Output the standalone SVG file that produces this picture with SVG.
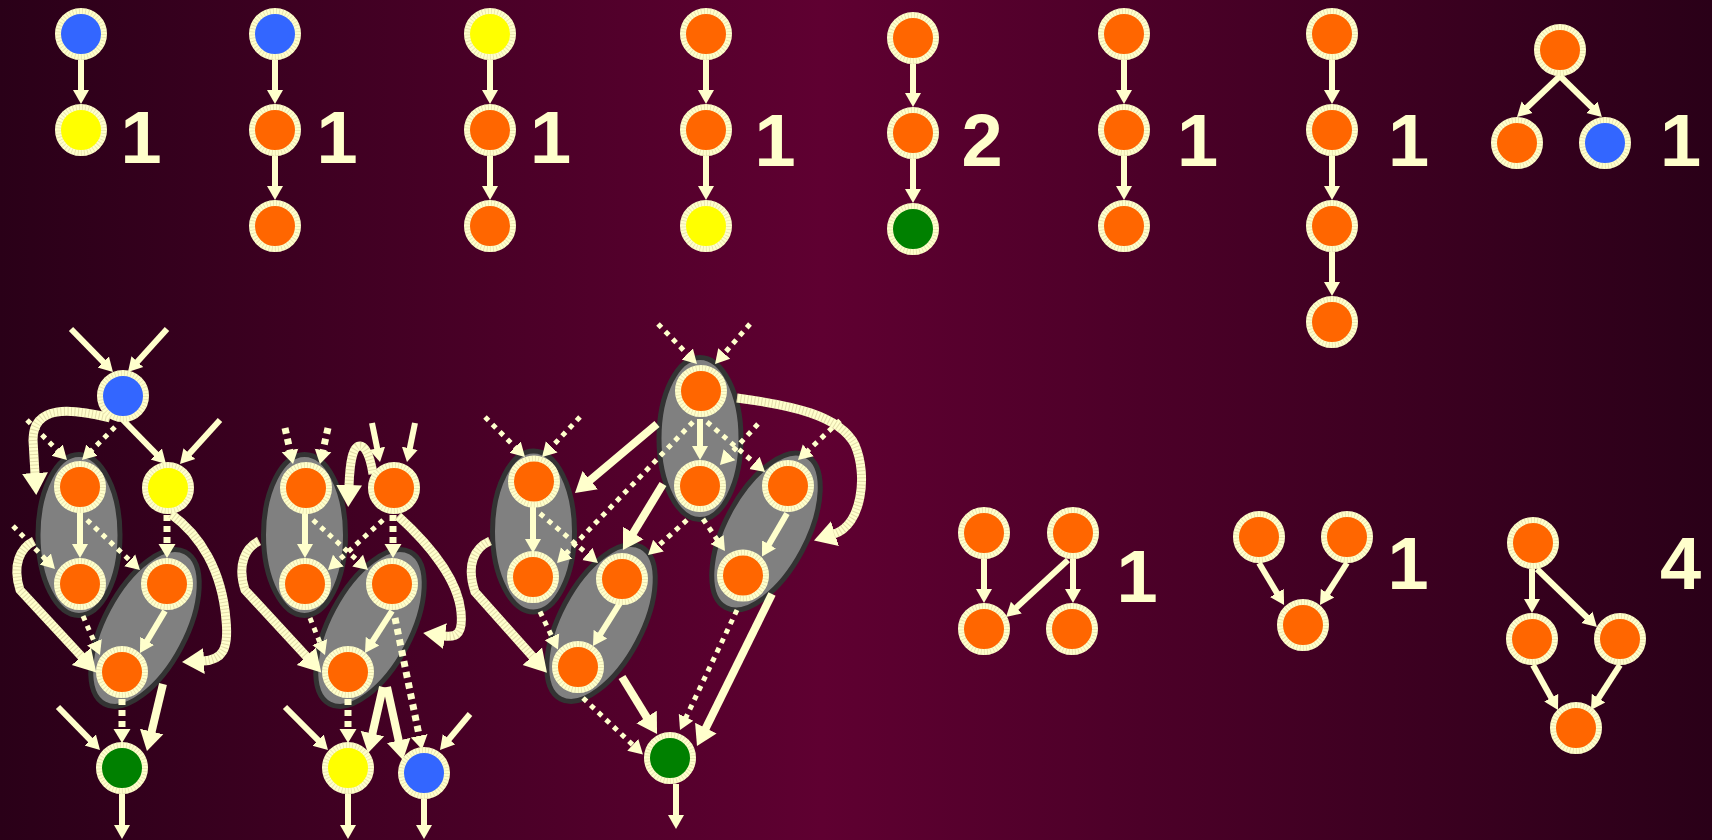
<svg xmlns="http://www.w3.org/2000/svg" width="1712" height="840" viewBox="0 0 1712 840">
<defs>
<linearGradient id="bg" x1="0" y1="0" x2="1" y2="0">
<stop offset="0" stop-color="#2a0018"/>
<stop offset="0.48" stop-color="#5f0031"/>
<stop offset="1" stop-color="#2a0018"/>
</linearGradient>
<marker id="ah" markerUnits="userSpaceOnUse" viewBox="0 -9 15 18" refX="1" refY="0" markerWidth="15" markerHeight="18" orient="auto"><path d="M0,-8 L14,0 L0,8 z" fill="#ffffcc"/></marker>
<marker id="ah2" markerUnits="userSpaceOnUse" viewBox="0 -9 15 18" refX="1" refY="0" markerWidth="15" markerHeight="18" orient="auto"><path d="M0,-8.5 L14,0 L0,8.5 z" fill="#ffffcc"/></marker>
<marker id="at" markerUnits="userSpaceOnUse" viewBox="0 -13 21 26" refX="1" refY="0" markerWidth="21" markerHeight="26" orient="auto"><path d="M0,-12 L20,0 L0,12 z" fill="#ffffcc"/></marker>
<marker id="ahh" markerUnits="userSpaceOnUse" viewBox="0 -14 23 28" refX="1" refY="0" markerWidth="23" markerHeight="28" orient="auto"><path d="M0,-13 L22,0 L0,13 z" fill="#ffffcc"/></marker>
</defs>
<style>
.n{stroke:#ffffcc;stroke-width:6}
.rim{fill:none;stroke:#c8bc88;stroke-width:6;stroke-dasharray:0.8 2.4;opacity:.45}
.o{fill:#ff6600}.b{fill:#3366ff}.y{fill:#ffff00}.g{fill:#008000}
.cl{fill:#808080;stroke:#333333;stroke-width:5}
.s{stroke:#ffffcc;stroke-width:6;fill:none;marker-end:url(#ah)}
.t{stroke:#ffffcc;stroke-width:8;fill:none;marker-end:url(#at)}
.d{stroke:#ffffcc;stroke-width:5;stroke-dasharray:5 5.5;fill:none;marker-end:url(#ah)}
.dd{stroke:#ffffcc;stroke-width:7;stroke-dasharray:6 5;fill:none;marker-end:url(#ah2)}
.h{stroke:#ffffcc;stroke-width:9;fill:none;marker-end:url(#ahh)}
.hx{stroke:#b8ab78;stroke-width:9;stroke-dasharray:1 2.5;fill:none;opacity:.4}
.num{font-family:"Liberation Sans",Arial,sans-serif;font-weight:bold;font-size:74px;fill:#ffffcc;text-anchor:middle}
</style>
<rect x="0" y="0" width="1712" height="840" fill="url(#bg)"/>

<g id="clusters">
<ellipse id="cl1a" class="cl" cx="79" cy="535" rx="41" ry="80.5"/>
<ellipse id="cl1b" class="cl" cx="145" cy="628" rx="41" ry="86" transform="rotate(28 145 628)"/>
<ellipse id="cl2a" class="cl" cx="304.5" cy="535" rx="41" ry="80.5"/>
<ellipse id="cl2b" class="cl" cx="370" cy="628" rx="41" ry="86" transform="rotate(28 370 628)"/>
<ellipse id="cl3a" class="cl" cx="700" cy="438.5" rx="41" ry="81"/>
<ellipse id="cl3b" class="cl" cx="533.5" cy="531.5" rx="41" ry="80.5"/>
<ellipse id="cl3c" class="cl" cx="601" cy="623" rx="41" ry="86" transform="rotate(28 601 623)"/>
<ellipse id="cl3d" class="cl" cx="766" cy="531.5" rx="41" ry="86" transform="rotate(28 766 531.5)"/>
</g>

<g id="connectors">
<!-- top row -->
<path class="s" d="M81,60 L81,91"/>
<path class="s" d="M275,60 L275,91"/><path class="s" d="M275,156 L275,187"/>
<path class="s" d="M490,60 L490,91"/><path class="s" d="M490,156 L490,187"/>
<path class="s" d="M706,60 L706,91"/><path class="s" d="M706,156 L706,187"/>
<path class="s" d="M913,64 L913,94"/><path class="s" d="M913,159 L913,190"/>
<path class="s" d="M1124,60 L1124,91"/><path class="s" d="M1124,156 L1124,187"/>
<path class="s" d="M1332,60 L1332,91"/><path class="s" d="M1332,156 L1332,187"/><path class="s" d="M1332,252 L1332,283"/>
<path class="s" d="M1560,76 L1526.4,108"/><path class="s" d="M1560,76 L1592.6,108"/>
<!-- bottom right -->
<path class="s" d="M984,559 L984,590"/><path class="s" d="M1073,559 L1073,590"/><path class="s" d="M1068,560 L1015.6,608.2"/>
<path class="s" d="M1259,563 L1277.4,593.8"/><path class="s" d="M1347,563 L1327,594.1"/>
<path class="s" d="M1532,569 L1532,600"/><path class="s" d="M1537,569 L1587.6,618"/>
<path class="s" d="M1533,665 L1551.7,698.6"/><path class="s" d="M1620,665 L1598,699"/>
<!-- cluster 1 -->
<path class="s" d="M71,329 L103.9,362.7"/>
<path class="s" d="M167,329 L136.7,362.4"/>
<path class="s" d="M123,420 L156.9,454.7"/>
<path class="s" d="M220,420 L188.7,454.4"/>
<path class="d" d="M115,427 L91.2,450.8"/>
<path class="d" d="M27,420 L57.8,450.8"/>
<path class="s" d="M80,512 L80,545"/>
<path class="d" d="M87,520 L130.5,561.1"/>
<path class="d" d="M13,526 L45.9,559.7"/>
<path class="dd" d="M167,515 L167,545"/>
<path class="s" d="M165,611 L146.6,641.8"/>
<path class="d" d="M83,616 L94.8,643.1"/>
<path class="dd" d="M122,699 L122,730"/>
<path class="t" d="M163,684 L151.4,732.5"/>
<path class="s" d="M58,707 L90.9,740.7"/>
<path class="s" d="M122,794 L122,826"/>
<path class="h" d="M110,418 C70,408 33,405 33,440 L35,474"/>
<path class="hx" d="M110,418 C70,408 33,405 33,440 L35,474"/>
<path class="h" d="M171,514 C200,535 222,570 226,620 C229,650 222,660 203,661"/>
<path class="hx" d="M171,514 C200,535 222,570 226,620 C229,650 222,660 203,661"/>
<path class="h" d="M34,541 C20,548 12,565 20,590 L82,657"/>
<path class="hx" d="M34,541 C20,548 12,565 20,590 L82,657"/>
<!-- cluster 2 -->
<path class="dd" d="M285,428 L290.2,451.3"/>
<path class="dd" d="M328,428 L322.8,451.3"/>
<path class="s" d="M372,423 L377.4,449.3"/>
<path class="s" d="M415,423 L409.6,449.3"/>
<path class="s" d="M305,513 L305,545"/>
<path class="d" d="M313,520 L358.4,561.3"/>
<path class="d" d="M383,520 L337.6,561.3"/>
<path class="dd" d="M393,515 L393,545"/>
<path class="d" d="M310,618 L320.1,643"/>
<path class="s" d="M392,611 L372,642.1"/>
<path class="dd" d="M395,618 L419.4,736.8"/>
<path class="dd" d="M348,699 L348,730"/>
<path class="t" d="M383,687 L372.2,734.5"/>
<path class="t" d="M387,687 L398.9,741.4"/>
<path class="s" d="M285,707 L318.8,740.8"/>
<path class="s" d="M470,714 L448.3,740"/>
<path class="s" d="M348,794 L348,826"/>
<path class="s" d="M424,799 L424,826"/>
<path class="h" d="M373,474 C370,455 365,446 360,446 C353,446 350,460 349,486"/>
<path class="hx" d="M373,474 C370,455 365,446 360,446 C353,446 350,460 349,486"/>
<path class="h" d="M398,516 C430,545 458,580 461,612 C463,632 458,638 444,636"/>
<path class="hx" d="M398,516 C430,545 458,580 461,612 C463,632 458,638 444,636"/>
<path class="h" d="M259,541 C245,548 237,565 245,590 L307,657"/>
<path class="hx" d="M259,541 C245,548 237,565 245,590 L307,657"/>
<!-- cluster 3 -->
<path class="d" d="M658,324 L687.9,354.7"/>
<path class="d" d="M750,324 L723.6,354.2"/>
<path class="d" d="M485,417 L515.8,447.8"/>
<path class="d" d="M580,417 L551,447.6"/>
<path class="s" d="M700,419 L700,447"/>
<path class="t" d="M657,424 L589.5,480.8"/>
<path class="t" d="M663,484 L632.8,533.8"/>
<path class="d" d="M693,422 L566,553.6"/>
<path class="d" d="M707,422 L755.2,463.5"/>
<path class="d" d="M758,424 L728.8,455.5"/>
<path class="d" d="M840,420.5 L807.5,451.1"/>
<path class="s" d="M533,507 L533,540"/>
<path class="d" d="M540,513.5 L588.1,554.6"/>
<path class="d" d="M687,520 L657.7,546.3"/>
<path class="d" d="M703,519 L717.6,540.3"/>
<path class="s" d="M787,513.5 L768.5,545.3"/>
<path class="d" d="M540,611.6 L552.4,637.7"/>
<path class="s" d="M620,603 L599.9,635"/>
<path class="d" d="M583,698 L633.5,745.6"/>
<path class="t" d="M622,677 L647.1,717.8"/>
<path class="d" d="M737,610 L685.6,718.2"/>
<path class="t" d="M772,594 L705.4,729"/>
<path class="s" d="M676,784 L676,816"/>
<path class="h" d="M737,398 C790,405 840,415 855,445 C868,475 862,525 834,534"/>
<path class="hx" d="M737,398 C790,405 840,415 855,445 C868,475 862,525 834,534"/>
<path class="h" d="M490,541 C474,548 466,565 475,592 L533,657"/>
<path class="hx" d="M490,541 C474,548 466,565 475,592 L533,657"/>
</g>

<!-- top row nodes -->
<g id="g1a"><circle class="n b" cx="81" cy="34" r="23"/><circle class="rim" cx="81" cy="34" r="23"/></g>
<g id="g1b"><circle class="n y" cx="81" cy="130" r="23"/><circle class="rim" cx="81" cy="130" r="23"/></g>
<g id="g2a"><circle class="n b" cx="275" cy="34" r="23"/><circle class="rim" cx="275" cy="34" r="23"/></g>
<g id="g2b"><circle class="n o" cx="275" cy="130" r="23"/><circle class="rim" cx="275" cy="130" r="23"/></g>
<g id="g2c"><circle class="n o" cx="275" cy="226" r="23"/><circle class="rim" cx="275" cy="226" r="23"/></g>
<g id="g3a"><circle class="n y" cx="490" cy="34" r="23"/><circle class="rim" cx="490" cy="34" r="23"/></g>
<g id="g3b"><circle class="n o" cx="490" cy="130" r="23"/><circle class="rim" cx="490" cy="130" r="23"/></g>
<g id="g3c"><circle class="n o" cx="490" cy="226" r="23"/><circle class="rim" cx="490" cy="226" r="23"/></g>
<g id="g4a"><circle class="n o" cx="706" cy="34" r="23"/><circle class="rim" cx="706" cy="34" r="23"/></g>
<g id="g4b"><circle class="n o" cx="706" cy="130" r="23"/><circle class="rim" cx="706" cy="130" r="23"/></g>
<g id="g4c"><circle class="n y" cx="706" cy="226" r="23"/><circle class="rim" cx="706" cy="226" r="23"/></g>
<g id="g5a"><circle class="n o" cx="913" cy="38" r="23"/><circle class="rim" cx="913" cy="38" r="23"/></g>
<g id="g5b"><circle class="n o" cx="913" cy="133" r="23"/><circle class="rim" cx="913" cy="133" r="23"/></g>
<g id="g5c"><circle class="n g" cx="913" cy="229" r="23"/><circle class="rim" cx="913" cy="229" r="23"/></g>
<g id="g6a"><circle class="n o" cx="1124" cy="34" r="23"/><circle class="rim" cx="1124" cy="34" r="23"/></g>
<g id="g6b"><circle class="n o" cx="1124" cy="130" r="23"/><circle class="rim" cx="1124" cy="130" r="23"/></g>
<g id="g6c"><circle class="n o" cx="1124" cy="226" r="23"/><circle class="rim" cx="1124" cy="226" r="23"/></g>
<g id="g7a"><circle class="n o" cx="1332" cy="34" r="23"/><circle class="rim" cx="1332" cy="34" r="23"/></g>
<g id="g7b"><circle class="n o" cx="1332" cy="130" r="23"/><circle class="rim" cx="1332" cy="130" r="23"/></g>
<g id="g7c"><circle class="n o" cx="1332" cy="226" r="23"/><circle class="rim" cx="1332" cy="226" r="23"/></g>
<g id="g7d"><circle class="n o" cx="1332" cy="322" r="23"/><circle class="rim" cx="1332" cy="322" r="23"/></g>
<g id="g8a"><circle class="n o" cx="1560" cy="50" r="23"/><circle class="rim" cx="1560" cy="50" r="23"/></g>
<g id="g8b"><circle class="n o" cx="1517" cy="143" r="23"/><circle class="rim" cx="1517" cy="143" r="23"/></g>
<g id="g8c"><circle class="n b" cx="1605" cy="143" r="23"/><circle class="rim" cx="1605" cy="143" r="23"/></g>
<!-- bottom right nodes -->
<g id="ga1"><circle class="n o" cx="984" cy="533" r="23"/><circle class="rim" cx="984" cy="533" r="23"/></g>
<g id="ga2"><circle class="n o" cx="1073" cy="533" r="23"/><circle class="rim" cx="1073" cy="533" r="23"/></g>
<g id="ga3"><circle class="n o" cx="984" cy="629" r="23"/><circle class="rim" cx="984" cy="629" r="23"/></g>
<g id="ga4"><circle class="n o" cx="1072" cy="629" r="23"/><circle class="rim" cx="1072" cy="629" r="23"/></g>
<g id="gb1"><circle class="n o" cx="1259" cy="537" r="23"/><circle class="rim" cx="1259" cy="537" r="23"/></g>
<g id="gb2"><circle class="n o" cx="1347" cy="537" r="23"/><circle class="rim" cx="1347" cy="537" r="23"/></g>
<g id="gb3"><circle class="n o" cx="1303" cy="625" r="23"/><circle class="rim" cx="1303" cy="625" r="23"/></g>
<g id="gc1"><circle class="n o" cx="1533" cy="543" r="23"/><circle class="rim" cx="1533" cy="543" r="23"/></g>
<g id="gc2"><circle class="n o" cx="1532" cy="639" r="23"/><circle class="rim" cx="1532" cy="639" r="23"/></g>
<g id="gc3"><circle class="n o" cx="1620" cy="639" r="23"/><circle class="rim" cx="1620" cy="639" r="23"/></g>
<g id="gc4"><circle class="n o" cx="1576" cy="728" r="23"/><circle class="rim" cx="1576" cy="728" r="23"/></g>
<!-- cluster 1 nodes -->
<g id="c1blue"><circle class="n b" cx="123" cy="396" r="23"/><circle class="rim" cx="123" cy="396" r="23"/></g>
<g id="c1a"><circle class="n o" cx="80" cy="487" r="23"/><circle class="rim" cx="80" cy="487" r="23"/></g>
<g id="c1b"><circle class="n o" cx="80" cy="584" r="23"/><circle class="rim" cx="80" cy="584" r="23"/></g>
<g id="c1y"><circle class="n y" cx="168" cy="488" r="23"/><circle class="rim" cx="168" cy="488" r="23"/></g>
<g id="c1c"><circle class="n o" cx="167" cy="584" r="23"/><circle class="rim" cx="167" cy="584" r="23"/></g>
<g id="c1d"><circle class="n o" cx="122" cy="672" r="23"/><circle class="rim" cx="122" cy="672" r="23"/></g>
<g id="c1g"><circle class="n g" cx="122" cy="768" r="23"/><circle class="rim" cx="122" cy="768" r="23"/></g>
<!-- cluster 2 nodes -->
<g id="c2e"><circle class="n o" cx="306" cy="488" r="23"/><circle class="rim" cx="306" cy="488" r="23"/></g>
<g id="c2f"><circle class="n o" cx="305" cy="584" r="23"/><circle class="rim" cx="305" cy="584" r="23"/></g>
<g id="c2g"><circle class="n o" cx="394" cy="488" r="23"/><circle class="rim" cx="394" cy="488" r="23"/></g>
<g id="c2h"><circle class="n o" cx="392" cy="584" r="23"/><circle class="rim" cx="392" cy="584" r="23"/></g>
<g id="c2i"><circle class="n o" cx="348" cy="672" r="23"/><circle class="rim" cx="348" cy="672" r="23"/></g>
<g id="c2y"><circle class="n y" cx="348" cy="768" r="23"/><circle class="rim" cx="348" cy="768" r="23"/></g>
<g id="c2b"><circle class="n b" cx="424" cy="773" r="23"/><circle class="rim" cx="424" cy="773" r="23"/></g>
<!-- cluster 3 nodes -->
<g id="c3j"><circle class="n o" cx="701" cy="391" r="23"/><circle class="rim" cx="701" cy="391" r="23"/></g>
<g id="c3k"><circle class="n o" cx="700" cy="486" r="23"/><circle class="rim" cx="700" cy="486" r="23"/></g>
<g id="c3l"><circle class="n o" cx="534" cy="481.5" r="23"/><circle class="rim" cx="534" cy="481.5" r="23"/></g>
<g id="c3m"><circle class="n o" cx="533" cy="577" r="23"/><circle class="rim" cx="533" cy="577" r="23"/></g>
<g id="c3n"><circle class="n o" cx="622" cy="579" r="23"/><circle class="rim" cx="622" cy="579" r="23"/></g>
<g id="c3o"><circle class="n o" cx="578" cy="667" r="23"/><circle class="rim" cx="578" cy="667" r="23"/></g>
<g id="c3p"><circle class="n o" cx="788" cy="486" r="23"/><circle class="rim" cx="788" cy="486" r="23"/></g>
<g id="c3q"><circle class="n o" cx="743" cy="575.5" r="23"/><circle class="rim" cx="743" cy="575.5" r="23"/></g>
<g id="c3g"><circle class="n g" cx="670" cy="758" r="23"/><circle class="rim" cx="670" cy="758" r="23"/></g>

<g id="labels">
<text class="num" x="141" y="163">1</text>
<text class="num" x="337" y="163">1</text>
<text class="num" x="550.5" y="163">1</text>
<text class="num" x="775" y="166">1</text>
<text class="num" x="982" y="166">2</text>
<text class="num" x="1197.5" y="166">1</text>
<text class="num" x="1408.5" y="166">1</text>
<text class="num" x="1680.5" y="166">1</text>
<text class="num" x="1137" y="602">1</text>
<text class="num" x="1408" y="589">1</text>
<text class="num" x="1680.5" y="589">4</text>
</g>
</svg>
